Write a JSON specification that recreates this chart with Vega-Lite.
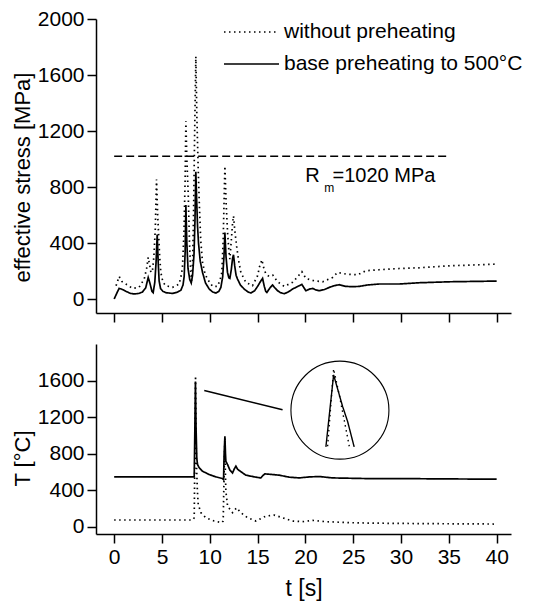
{
  "$schema": "https://vega.github.io/schema/vega-lite/v6.json",
  "padding": {"left": 11, "top": 8, "right": 5, "bottom": 5},
  "config": {
    "font": "Liberation Sans",
    "view": {"stroke": null},
    "axis": {"grid": false, "domainColor": "black", "tickColor": "black", "labelColor": "black", "titleColor": "black", "domainWidth": 1.5, "tickWidth": 1.5, "labelFont": "Liberation Sans", "titleFont": "Liberation Sans", "labelFontSize": 21, "titleFontSize": 22, "titleFontWeight": "normal"}
  },
  "datasets": {
    "stress": [
      {"t":0,"stress":0,"series":"base preheating to 500°C"},{"t":0.3,"stress":45,"series":"base preheating to 500°C"},{"t":0.52,"stress":76,"series":"base preheating to 500°C"},{"t":0.8,"stress":70,"series":"base preheating to 500°C"},{"t":1.22,"stress":55,"series":"base preheating to 500°C"},{"t":1.7,"stress":40,"series":"base preheating to 500°C"},{"t":2.09,"stress":36,"series":"base preheating to 500°C"},{"t":2.6,"stress":40,"series":"base preheating to 500°C"},{"t":2.96,"stress":50,"series":"base preheating to 500°C"},{"t":3.3,"stress":80,"series":"base preheating to 500°C"},{"t":3.56,"stress":154,"series":"base preheating to 500°C"},{"t":3.75,"stress":110,"series":"base preheating to 500°C"},{"t":3.95,"stress":55,"series":"base preheating to 500°C"},{"t":4.08,"stress":45,"series":"base preheating to 500°C"},{"t":4.25,"stress":120,"series":"base preheating to 500°C"},{"t":4.38,"stress":260,"series":"base preheating to 500°C"},{"t":4.5,"stress":460,"series":"base preheating to 500°C"},{"t":4.6,"stress":270,"series":"base preheating to 500°C"},{"t":4.7,"stress":130,"series":"base preheating to 500°C"},{"t":4.85,"stress":75,"series":"base preheating to 500°C"},{"t":5.1,"stress":55,"series":"base preheating to 500°C"},{"t":5.4,"stress":45,"series":"base preheating to 500°C"},{"t":6.1,"stress":40,"series":"base preheating to 500°C"},{"t":6.6,"stress":48,"series":"base preheating to 500°C"},{"t":6.97,"stress":62,"series":"base preheating to 500°C"},{"t":7.2,"stress":100,"series":"base preheating to 500°C"},{"t":7.32,"stress":160,"series":"base preheating to 500°C"},{"t":7.42,"stress":330,"series":"base preheating to 500°C"},{"t":7.5,"stress":671,"series":"base preheating to 500°C"},{"t":7.6,"stress":400,"series":"base preheating to 500°C"},{"t":7.72,"stress":220,"series":"base preheating to 500°C"},{"t":7.9,"stress":140,"series":"base preheating to 500°C"},{"t":8.06,"stress":114,"series":"base preheating to 500°C"},{"t":8.2,"stress":170,"series":"base preheating to 500°C"},{"t":8.35,"stress":320,"series":"base preheating to 500°C"},{"t":8.45,"stress":560,"series":"base preheating to 500°C"},{"t":8.54,"stress":909,"series":"base preheating to 500°C"},{"t":8.63,"stress":700,"series":"base preheating to 500°C"},{"t":8.72,"stress":520,"series":"base preheating to 500°C"},{"t":8.82,"stress":400,"series":"base preheating to 500°C"},{"t":9.0,"stress":270,"series":"base preheating to 500°C"},{"t":9.24,"stress":190,"series":"base preheating to 500°C"},{"t":9.55,"stress":115,"series":"base preheating to 500°C"},{"t":9.94,"stress":71,"series":"base preheating to 500°C"},{"t":10.3,"stress":50,"series":"base preheating to 500°C"},{"t":10.64,"stress":43,"series":"base preheating to 500°C"},{"t":10.95,"stress":55,"series":"base preheating to 500°C"},{"t":11.16,"stress":83,"series":"base preheating to 500°C"},{"t":11.35,"stress":160,"series":"base preheating to 500°C"},{"t":11.48,"stress":300,"series":"base preheating to 500°C"},{"t":11.58,"stress":474,"series":"base preheating to 500°C"},{"t":11.7,"stress":300,"series":"base preheating to 500°C"},{"t":11.85,"stress":190,"series":"base preheating to 500°C"},{"t":12.0,"stress":150,"series":"base preheating to 500°C"},{"t":12.1,"stress":147,"series":"base preheating to 500°C"},{"t":12.25,"stress":210,"series":"base preheating to 500°C"},{"t":12.38,"stress":290,"series":"base preheating to 500°C"},{"t":12.48,"stress":316,"series":"base preheating to 500°C"},{"t":12.6,"stress":240,"series":"base preheating to 500°C"},{"t":12.75,"stress":170,"series":"base preheating to 500°C"},{"t":12.9,"stress":142,"series":"base preheating to 500°C"},{"t":13.2,"stress":100,"series":"base preheating to 500°C"},{"t":13.6,"stress":71,"series":"base preheating to 500°C"},{"t":14.0,"stress":50,"series":"base preheating to 500°C"},{"t":14.3,"stress":43,"series":"base preheating to 500°C"},{"t":14.7,"stress":60,"series":"base preheating to 500°C"},{"t":15.0,"stress":90,"series":"base preheating to 500°C"},{"t":15.3,"stress":125,"series":"base preheating to 500°C"},{"t":15.52,"stress":147,"series":"base preheating to 500°C"},{"t":15.7,"stress":90,"series":"base preheating to 500°C"},{"t":15.85,"stress":55,"series":"base preheating to 500°C"},{"t":15.97,"stress":47,"series":"base preheating to 500°C"},{"t":16.3,"stress":80,"series":"base preheating to 500°C"},{"t":16.56,"stress":100,"series":"base preheating to 500°C"},{"t":16.8,"stress":80,"series":"base preheating to 500°C"},{"t":17.09,"stress":59,"series":"base preheating to 500°C"},{"t":17.4,"stress":45,"series":"base preheating to 500°C"},{"t":17.79,"stress":38,"series":"base preheating to 500°C"},{"t":18.2,"stress":50,"series":"base preheating to 500°C"},{"t":18.66,"stress":71,"series":"base preheating to 500°C"},{"t":19.2,"stress":90,"series":"base preheating to 500°C"},{"t":19.63,"stress":104,"series":"base preheating to 500°C"},{"t":19.85,"stress":80,"series":"base preheating to 500°C"},{"t":20.05,"stress":59,"series":"base preheating to 500°C"},{"t":20.4,"stress":70,"series":"base preheating to 500°C"},{"t":20.75,"stress":76,"series":"base preheating to 500°C"},{"t":21.1,"stress":65,"series":"base preheating to 500°C"},{"t":21.45,"stress":59,"series":"base preheating to 500°C"},{"t":22.0,"stress":68,"series":"base preheating to 500°C"},{"t":22.5,"stress":83,"series":"base preheating to 500°C"},{"t":23.0,"stress":95,"series":"base preheating to 500°C"},{"t":23.54,"stress":102,"series":"base preheating to 500°C"},{"t":24.24,"stress":90,"series":"base preheating to 500°C"},{"t":25.0,"stress":88,"series":"base preheating to 500°C"},{"t":25.63,"stress":90,"series":"base preheating to 500°C"},{"t":26.5,"stress":100,"series":"base preheating to 500°C"},{"t":27.72,"stress":107,"series":"base preheating to 500°C"},{"t":29.82,"stress":107,"series":"base preheating to 500°C"},{"t":31.9,"stress":116,"series":"base preheating to 500°C"},{"t":35.05,"stress":123,"series":"base preheating to 500°C"},{"t":38,"stress":126,"series":"base preheating to 500°C"},{"t":40,"stress":128,"series":"base preheating to 500°C"},
      {"t":0.2,"stress":95,"series":"without preheating"},{"t":0.52,"stress":161,"series":"without preheating"},{"t":0.8,"stress":125,"series":"without preheating"},{"t":1.22,"stress":107,"series":"without preheating"},{"t":1.92,"stress":76,"series":"without preheating"},{"t":2.6,"stress":83,"series":"without preheating"},{"t":3.14,"stress":142,"series":"without preheating"},{"t":3.4,"stress":220,"series":"without preheating"},{"t":3.56,"stress":297,"series":"without preheating"},{"t":3.72,"stress":240,"series":"without preheating"},{"t":3.84,"stress":190,"series":"without preheating"},{"t":4.0,"stress":200,"series":"without preheating"},{"t":4.15,"stress":300,"series":"without preheating"},{"t":4.3,"stress":500,"series":"without preheating"},{"t":4.43,"stress":854,"series":"without preheating"},{"t":4.55,"stress":600,"series":"without preheating"},{"t":4.64,"stress":474,"series":"without preheating"},{"t":4.76,"stress":300,"series":"without preheating"},{"t":4.88,"stress":190,"series":"without preheating"},{"t":5.1,"stress":120,"series":"without preheating"},{"t":5.4,"stress":95,"series":"without preheating"},{"t":6.1,"stress":83,"series":"without preheating"},{"t":6.8,"stress":107,"series":"without preheating"},{"t":7.05,"stress":180,"series":"without preheating"},{"t":7.15,"stress":237,"series":"without preheating"},{"t":7.3,"stress":480,"series":"without preheating"},{"t":7.42,"stress":850,"series":"without preheating"},{"t":7.5,"stress":1270,"series":"without preheating"},{"t":7.6,"stress":1000,"series":"without preheating"},{"t":7.74,"stress":759,"series":"without preheating"},{"t":7.88,"stress":400,"series":"without preheating"},{"t":8.0,"stress":200,"series":"without preheating"},{"t":8.1,"stress":130,"series":"without preheating"},{"t":8.2,"stress":250,"series":"without preheating"},{"t":8.3,"stress":600,"series":"without preheating"},{"t":8.42,"stress":1200,"series":"without preheating"},{"t":8.54,"stress":1732,"series":"without preheating"},{"t":8.65,"stress":1300,"series":"without preheating"},{"t":8.78,"stress":950,"series":"without preheating"},{"t":8.89,"stress":712,"series":"without preheating"},{"t":9.05,"stress":420,"series":"without preheating"},{"t":9.24,"stress":261,"series":"without preheating"},{"t":9.5,"stress":180,"series":"without preheating"},{"t":9.76,"stress":142,"series":"without preheating"},{"t":10.29,"stress":90,"series":"without preheating"},{"t":10.8,"stress":90,"series":"without preheating"},{"t":11.05,"stress":130,"series":"without preheating"},{"t":11.26,"stress":190,"series":"without preheating"},{"t":11.4,"stress":420,"series":"without preheating"},{"t":11.58,"stress":949,"series":"without preheating"},{"t":11.7,"stress":700,"series":"without preheating"},{"t":11.86,"stress":474,"series":"without preheating"},{"t":12.0,"stress":340,"series":"without preheating"},{"t":12.1,"stress":285,"series":"without preheating"},{"t":12.25,"stress":420,"series":"without preheating"},{"t":12.38,"stress":540,"series":"without preheating"},{"t":12.48,"stress":593,"series":"without preheating"},{"t":12.6,"stress":500,"series":"without preheating"},{"t":12.8,"stress":380,"series":"without preheating"},{"t":13.0,"stress":280,"series":"without preheating"},{"t":13.25,"stress":190,"series":"without preheating"},{"t":13.77,"stress":119,"series":"without preheating"},{"t":14.47,"stress":95,"series":"without preheating"},{"t":15.0,"stress":166,"series":"without preheating"},{"t":15.2,"stress":230,"series":"without preheating"},{"t":15.45,"stress":280,"series":"without preheating"},{"t":15.65,"stress":220,"series":"without preheating"},{"t":15.87,"stress":178,"series":"without preheating"},{"t":16.2,"stress":161,"series":"without preheating"},{"t":16.6,"stress":170,"series":"without preheating"},{"t":17.09,"stress":123,"series":"without preheating"},{"t":17.79,"stress":90,"series":"without preheating"},{"t":18.66,"stress":119,"series":"without preheating"},{"t":19.2,"stress":160,"series":"without preheating"},{"t":19.63,"stress":195,"series":"without preheating"},{"t":20.05,"stress":147,"series":"without preheating"},{"t":20.9,"stress":130,"series":"without preheating"},{"t":21.8,"stress":123,"series":"without preheating"},{"t":22.84,"stress":154,"series":"without preheating"},{"t":23.36,"stress":190,"series":"without preheating"},{"t":24.24,"stress":178,"series":"without preheating"},{"t":25.46,"stress":173,"series":"without preheating"},{"t":26.33,"stress":202,"series":"without preheating"},{"t":27.72,"stress":209,"series":"without preheating"},{"t":29.82,"stress":218,"series":"without preheating"},{"t":31.9,"stress":223,"series":"without preheating"},{"t":35.05,"stress":237,"series":"without preheating"},{"t":40,"stress":249,"series":"without preheating"}
    ],
    "temp": [
      {"t":0,"T":545,"series":"base preheating to 500°C"},{"t":8.37,"T":545,"series":"base preheating to 500°C"},{"t":8.43,"T":1000,"series":"base preheating to 500°C"},{"t":8.5,"T":1589,"series":"base preheating to 500°C"},{"t":8.56,"T":1100,"series":"base preheating to 500°C"},{"t":8.64,"T":750,"series":"base preheating to 500°C"},{"t":8.72,"T":680,"series":"base preheating to 500°C"},{"t":8.9,"T":644,"series":"base preheating to 500°C"},{"t":9.24,"T":607,"series":"base preheating to 500°C"},{"t":9.94,"T":571,"series":"base preheating to 500°C"},{"t":10.64,"T":545,"series":"base preheating to 500°C"},{"t":11.33,"T":527,"series":"base preheating to 500°C"},{"t":11.44,"T":516,"series":"base preheating to 500°C"},{"t":11.5,"T":800,"series":"base preheating to 500°C"},{"t":11.58,"T":989,"series":"base preheating to 500°C"},{"t":11.64,"T":800,"series":"base preheating to 500°C"},{"t":11.68,"T":716,"series":"base preheating to 500°C"},{"t":11.86,"T":680,"series":"base preheating to 500°C"},{"t":12.1,"T":620,"series":"base preheating to 500°C"},{"t":12.38,"T":589,"series":"base preheating to 500°C"},{"t":12.55,"T":630,"series":"base preheating to 500°C"},{"t":12.73,"T":662,"series":"base preheating to 500°C"},{"t":12.9,"T":630,"series":"base preheating to 500°C"},{"t":13.08,"T":615,"series":"base preheating to 500°C"},{"t":13.77,"T":564,"series":"base preheating to 500°C"},{"t":14.82,"T":542,"series":"base preheating to 500°C"},{"t":15.34,"T":534,"series":"base preheating to 500°C"},{"t":15.55,"T":560,"series":"base preheating to 500°C"},{"t":15.76,"T":578,"series":"base preheating to 500°C"},{"t":16.56,"T":571,"series":"base preheating to 500°C"},{"t":17.26,"T":564,"series":"base preheating to 500°C"},{"t":18.31,"T":542,"series":"base preheating to 500°C"},{"t":19.35,"T":534,"series":"base preheating to 500°C"},{"t":20.4,"T":545,"series":"base preheating to 500°C"},{"t":21.45,"T":549,"series":"base preheating to 500°C"},{"t":22.84,"T":534,"series":"base preheating to 500°C"},{"t":26.33,"T":527,"series":"base preheating to 500°C"},{"t":29.82,"T":527,"series":"base preheating to 500°C"},{"t":33.3,"T":524,"series":"base preheating to 500°C"},{"t":40,"T":520,"series":"base preheating to 500°C"},
      {"t":0,"T":73,"series":"without preheating"},{"t":8.2,"T":73,"series":"without preheating"},{"t":8.37,"T":98,"series":"without preheating"},{"t":8.44,"T":800,"series":"without preheating"},{"t":8.51,"T":1651,"series":"without preheating"},{"t":8.56,"T":1000,"series":"without preheating"},{"t":8.61,"T":680,"series":"without preheating"},{"t":8.7,"T":400,"series":"without preheating"},{"t":8.79,"T":244,"series":"without preheating"},{"t":9.07,"T":153,"series":"without preheating"},{"t":9.59,"T":98,"series":"without preheating"},{"t":10.46,"T":62,"series":"without preheating"},{"t":11.26,"T":44,"series":"without preheating"},{"t":11.4,"T":62,"series":"without preheating"},{"t":11.5,"T":600,"series":"without preheating"},{"t":11.58,"T":971,"series":"without preheating"},{"t":11.63,"T":600,"series":"without preheating"},{"t":11.68,"T":389,"series":"without preheating"},{"t":11.86,"T":225,"series":"without preheating"},{"t":12.38,"T":153,"series":"without preheating"},{"t":12.8,"T":207,"series":"without preheating"},{"t":13.25,"T":153,"series":"without preheating"},{"t":13.95,"T":98,"series":"without preheating"},{"t":14.82,"T":62,"series":"without preheating"},{"t":15.87,"T":116,"series":"without preheating"},{"t":16.74,"T":127,"series":"without preheating"},{"t":17.6,"T":98,"series":"without preheating"},{"t":18.66,"T":62,"series":"without preheating"},{"t":19.7,"T":55,"series":"without preheating"},{"t":20.75,"T":69,"series":"without preheating"},{"t":22.14,"T":55,"series":"without preheating"},{"t":24.6,"T":44,"series":"without preheating"},{"t":26.33,"T":40,"series":"without preheating"},{"t":29.8,"T":36,"series":"without preheating"},{"t":33.3,"T":33,"series":"without preheating"},{"t":40,"T":29,"series":"without preheating"}
    ],
    "inset": [
      {"t":22.14,"T":873,"series":"base preheating to 500°C"},{"t":22.95,"T":1662,"series":"base preheating to 500°C"},{"t":23.89,"T":1316,"series":"base preheating to 500°C"},{"t":24.41,"T":1153,"series":"base preheating to 500°C"},{"t":25.1,"T":873,"series":"base preheating to 500°C"},
      {"t":22.32,"T":880,"series":"without preheating"},{"t":22.95,"T":1727,"series":"without preheating"},{"t":23.54,"T":1444,"series":"without preheating"},{"t":24.59,"T":880,"series":"without preheating"}
    ],
    "pointer": [{"t":9.42,"T":1491,"t2":17.61,"T2":1280}],
    "lens": [{"t":23.61,"T":1276}],
    "rm": [{"t":0,"t2":35,"stress":1020}],
    "rmtext": [{"t":19.98,"stress":835,"label":"R"},{"t":22.84,"stress":835,"label":"=1020 MPa"}],
    "rmsub": [{"t":21.97,"stress":764,"label":"m"}]
  },
  "spacing": 21,
  "resolve": {"legend": {"strokeDash": "independent"}},
  "vconcat": [
    {
      "width": 415,
      "height": 294,
      "layer": [
        {
          "data": {"name": "stress"},
          "mark": {"type": "line", "strokeWidth": 1.7, "color": "black"},
          "encoding": {
            "x": {"field": "t", "type": "quantitative", "scale": {"domain": [-1.9, 41.5], "nice": false, "zero": false},
                  "axis": {"values": [0,5,10,15,20,25,30,35,40], "labels": false, "tickSize": 9, "title": null}},
            "y": {"field": "stress", "type": "quantitative", "scale": {"domain": [-100, 2000], "nice": false, "zero": false},
                  "axis": {"values": [0,200,400,600,800,1000,1200,1400,1600,1800,2000], "format": "d",
                           "labelExpr": "datum.value % 400 === 0 ? datum.label : ''",
                           "tickSize": {"condition": {"test": "datum.value % 400 === 0", "value": 9}, "value": 5},
                           "labelPadding": 3, "title": "effective stress [MPa]", "titleY": 158, "titlePadding": 3}},
            "strokeDash": {"field": "series", "type": "nominal",
                           "scale": {"domain": ["without preheating", "base preheating to 500°C"], "range": [[1.5, 3.5], [1, 0]]},
                           "legend": {"orient": "none", "legendX": 127, "legendY": 2.5, "title": null, "symbolType": "stroke",
                                      "symbolSize": 3025, "symbolStrokeWidth": 1.6, "symbolStrokeColor": "black", "clipHeight": 21,
                                      "rowPadding": 10, "labelFontSize": 21, "labelFont": "Liberation Sans", "labelColor": "black",
                                      "labelOffset": 4, "labelLimit": 400}}
          }
        },
        {
          "data": {"name": "rm"},
          "mark": {"type": "rule", "strokeDash": [8, 4], "strokeWidth": 1.5, "color": "black"},
          "encoding": {
            "x": {"field": "t", "type": "quantitative"},
            "x2": {"field": "t2"},
            "y": {"field": "stress", "type": "quantitative"}
          }
        },
        {
          "data": {"name": "rmtext"},
          "mark": {"type": "text", "align": "left", "baseline": "alphabetic", "fontSize": 20, "font": "Liberation Sans", "color": "black"},
          "encoding": {
            "x": {"field": "t", "type": "quantitative"},
            "y": {"field": "stress", "type": "quantitative"},
            "text": {"field": "label"}
          }
        },
        {
          "data": {"name": "rmsub"},
          "mark": {"type": "text", "align": "left", "baseline": "alphabetic", "fontSize": 12, "font": "Liberation Sans", "color": "black"},
          "encoding": {
            "x": {"field": "t", "type": "quantitative"},
            "y": {"field": "stress", "type": "quantitative"},
            "text": {"field": "label"}
          }
        }
      ]
    },
    {
      "width": 415,
      "height": 190,
      "layer": [
        {
          "data": {"name": "temp"},
          "mark": {"type": "line", "strokeWidth": 1.7, "color": "black"},
          "encoding": {
            "x": {"field": "t", "type": "quantitative", "scale": {"domain": [-1.9, 41.5], "nice": false, "zero": false},
                  "axis": {"values": [0,5,10,15,20,25,30,35,40], "tickSize": 9, "labelPadding": 3, "title": "t [s]", "titleFontSize": 23, "titlePadding": 10}},
            "y": {"field": "T", "type": "quantitative", "scale": {"domain": [-80, 2000], "nice": false, "zero": false},
                  "axis": {"values": [0,200,400,600,800,1000,1200,1400,1600,1800], "format": "d",
                           "labelExpr": "datum.value % 400 === 0 ? datum.label : ''",
                           "tickSize": {"condition": {"test": "datum.value % 400 === 0", "value": 9}, "value": 5},
                           "labelPadding": 3, "title": "T [°C]", "titleY": 114, "titlePadding": 3}},
            "strokeDash": {"field": "series", "type": "nominal",
                           "scale": {"domain": ["without preheating", "base preheating to 500°C"], "range": [[1.5, 3.5], [1, 0]]},
                           "legend": null}
          }
        },
        {
          "data": {"name": "inset"},
          "mark": {"type": "line", "strokeWidth": 1.4, "color": "black"},
          "encoding": {
            "x": {"field": "t", "type": "quantitative"},
            "y": {"field": "T", "type": "quantitative"},
            "strokeDash": {"field": "series", "type": "nominal", "legend": null}
          }
        },
        {
          "data": {"name": "pointer"},
          "mark": {"type": "rule", "strokeWidth": 1.6, "color": "black"},
          "encoding": {
            "x": {"field": "t", "type": "quantitative"},
            "y": {"field": "T", "type": "quantitative"},
            "x2": {"field": "t2"},
            "y2": {"field": "T2"}
          }
        },
        {
          "data": {"name": "lens"},
          "mark": {"type": "point", "shape": "circle", "filled": false, "size": 9604, "stroke": "black", "strokeWidth": 1.1, "opacity": 1},
          "encoding": {
            "x": {"field": "t", "type": "quantitative"},
            "y": {"field": "T", "type": "quantitative"}
          }
        }
      ]
    }
  ]
}
